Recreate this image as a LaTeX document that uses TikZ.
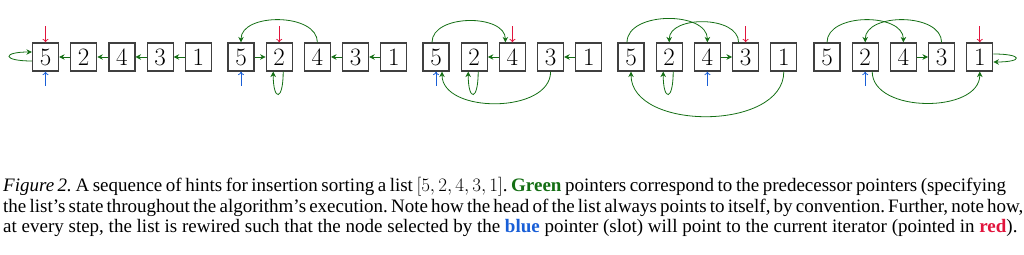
\RequirePackage{fix-cm}
\documentclass[tikz,border=0pt]{standalone}
\usepackage{fontspec}
\setmainfont{Liberation Serif}
\usepackage{xcolor}
\usepackage{tikz}
\usetikzlibrary{arrows.meta,positioning}

\definecolor{ptrgreen}{RGB}{20,110,20}
\definecolor{itred}{RGB}{225,20,60}
\definecolor{slotblue}{RGB}{25,95,215}
\newcommand{\figcapfont}{\fontsize{19}{20}\selectfont\frenchspacing}

\begin{document}
\begin{tikzpicture}[
  x=1pt, y=1pt,
  cell/.style={draw=black!75, line width=1.2pt, minimum width=26pt,
               minimum height=28pt, inner sep=0pt,
               font=\fontsize{25}{25}\selectfont},
  ptr/.style={-{Stealth[length=5.5pt, width=5.5pt]}, ptrgreen, line width=0.8pt},
  itr/.style={-{To[length=3.5pt, width=6pt]}, itred, line width=0.8pt},
  slot/.style={-{To[length=3.5pt, width=6pt]}, slotblue, line width=0.8pt},
  captext/.style={anchor=base west, font=\figcapfont, inner sep=0pt},
]
\useasboundingbox (0,0) rectangle (1024,254);

% ---------------- the five lists ----------------
\foreach \p/\x in {a/45.5, b/241, c/436, d/631, e/827}{
  \node[cell] (\p5) at (\x,197) {$5$};
  \node[cell, right=11pt of \p5] (\p2) {$2$};
  \node[cell, right=11pt of \p2] (\p4) {$4$};
  \node[cell, right=11pt of \p4] (\p3) {$3$};
  \node[cell, right=11pt of \p3] (\p1) {$1$};
}

% step 1
\draw[ptr] ([yshift=-4pt]a5.west) .. controls +(-30,0) and +(-30,0) .. ([yshift=5pt]a5.west);
\draw[ptr] (a2) -- (a5);
\draw[ptr] (a4) -- (a2);
\draw[ptr] (a3) -- (a4);
\draw[ptr] (a1) -- (a3);
\draw[itr] ([yshift=16pt]a5.north) -- (a5.north);
\draw[slot] ([yshift=-14pt]a5.south) -- (a5.south);

% step 2
\draw[ptr] (b5) -- (b2);
\draw[ptr] ([xshift=4pt]b2.south) .. controls +(0,-30) and +(0,-30) .. ([xshift=-6pt]b2.south);
\draw[ptr] (b4.north) to[out=90, in=90] (b5.north);
\draw[ptr] (b3) -- (b4);
\draw[ptr] (b1) -- (b3);
\draw[itr] ([yshift=16pt]b2.north) -- (b2.north);
\draw[slot] ([yshift=-14pt]b5.south) -- (b5.south);

% step 3
\draw[ptr] ([xshift=-4pt]c5.north) to[out=90, in=90] ([xshift=-7pt]c4.north);
\draw[ptr] ([xshift=4pt]c2.south) .. controls +(0,-30) and +(0,-30) .. ([xshift=-6pt]c2.south);
\draw[ptr] (c4) -- (c2);
\draw[ptr] (c3.south) to[out=-90, in=-90] ([xshift=6pt]c5.south);
\draw[ptr] (c1) -- (c3);
\draw[itr] ([yshift=16pt]c4.north) -- (c4.north);
\draw[slot] ([yshift=-14pt]c5.south) -- (c5.south);

% step 4
\draw[ptr] ([xshift=-4pt]d5.north) to[out=90, in=90] (d4.north);
\draw[ptr] ([xshift=-7pt]d3.north) to[out=90, in=90] (d2.north);
\draw[ptr] ([xshift=4pt]d2.south) .. controls +(0,-30) and +(0,-30) .. ([xshift=-6pt]d2.south);
\draw[ptr] (d4) -- (d3);
\draw[ptr] (d1.south) to[out=-90, in=-90] (d5.south);
\draw[itr] ([yshift=16pt]d3.north) -- (d3.north);
\draw[slot] ([yshift=-14pt]d4.south) -- (d4.south);

% step 5
\draw[ptr] (e5.north) to[out=90, in=90] (e4.north);
\draw[ptr] (e3.north) to[out=90, in=90] (e2.north);
\draw[ptr] (e4) -- (e3);
\draw[ptr] ([yshift=3pt]e1.east) .. controls +(30,0) and +(30,0) .. ([yshift=-5pt]e1.east);
\draw[ptr] ([xshift=7pt]e2.south) to[out=-90, in=-90] (e1.south);
\draw[itr] ([yshift=16pt]e1.north) -- (e1.north);
\draw[slot] ([yshift=-14pt]e2.south) -- (e2.south);

% ---------------- caption ----------------
\node[captext] (cap1) at (3,62) {\makebox[1003pt][s]{\textit{Figure 2.} A sequence of hints for insertion sorting a list $[5,2,4,3,1]$. {\color{ptrgreen}\textbf{Green}} pointers correspond to the predecessor pointers (specifying}};
\node[captext] (cap2) at (3,41.5) {\makebox[1003pt][s]{the list’s state throughout the algorithm’s execution. Note how the head of the list always points to itself, by convention. Further, note how,}};
\node[captext] (cap3) at (3,21.5) {at every step, the list is rewired such that the node selected by the {\color{slotblue}\textbf{blue}} pointer (slot) will point to the current iterator (pointed in {\color{itred}\textbf{red}}).};
\end{tikzpicture}
\end{document}
